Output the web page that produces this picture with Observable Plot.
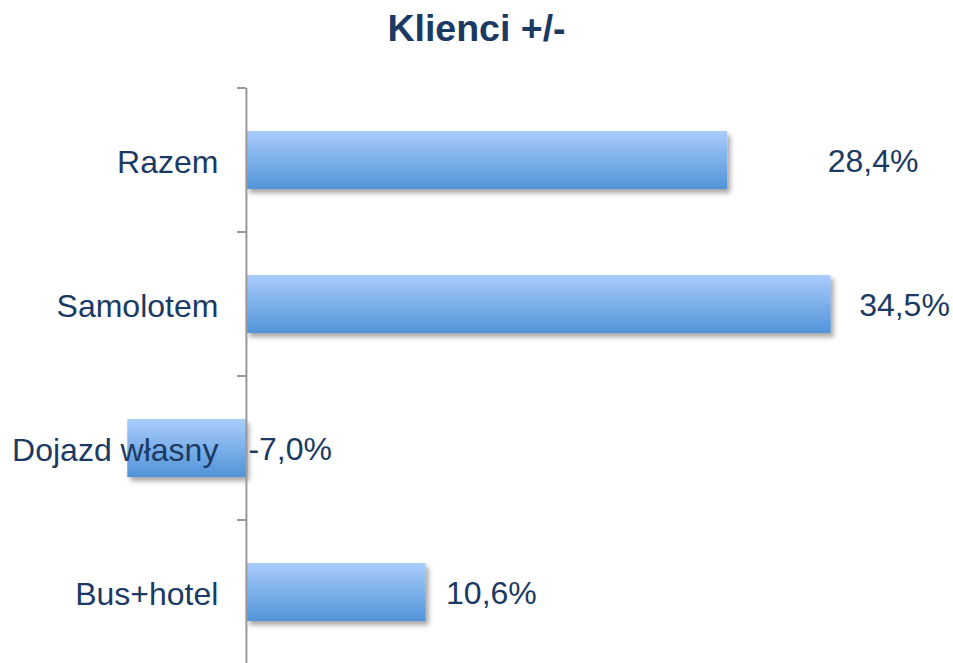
<!DOCTYPE html>
<html>
<head>
<meta charset="utf-8">
<script src="https://cdn.jsdelivr.net/npm/d3@7"></script>
<script src="https://cdn.jsdelivr.net/npm/@observablehq/plot@0.6"></script>
<style>
  html, body { margin: 0; padding: 0; background: #fff; overflow: hidden; }
  #title { height: 60px; width: 953px; text-align: center; font-family: "Liberation Sans", Arial, sans-serif;
           font-weight: bold; font-size: 37.5px; color: #1b3a63; line-height: 57px; }
  #chart svg { display: block; overflow: visible; }
</style>
</head>
<body>
<div id="title">Klienci +/-</div>
<div id="chart"></div>
<script>
const categories = ["Razem", "Samolotem", "Dojazd własny", "Bus+hotel"];
const values = [28.4, 34.5, -7.0, 10.6];
const labels = ["28,4%", "34,5%", "-7,0%", "10,6%"];

const data = categories.map((c, i) => ({category: c, value: values[i], label: labels[i]}));
const textColor = "#1b3a63";
const font = "Liberation Sans, Arial, sans-serif";
// label offsets (styling) per category
const labelDx = {"Razem": 100, "Samolotem": 28, "Dojazd własny": 2, "Bus+hotel": 20};

const chart = Plot.plot({
  width: 953,
  height: 604,
  marginTop: 28,
  marginBottom: 0,
  marginLeft: 0,
  marginRight: 0,
  style: {fontFamily: font, overflow: "visible"},
  x: {domain: [-14.51, 41.72], axis: null},
  y: {domain: categories, axis: null, paddingInner: 0.6, paddingOuter: 0.3},
  marks: [
    Plot.barX(data, {x1: 0, x2: "value", y: "category", fill: "url(#barGrad)", className: "bars"}),
    Plot.ruleX([0], {stroke: "#9a9a9a", strokeWidth: 2}),
    Plot.text(data, {x: 0, y: "category", text: "category", textAnchor: "end", dx: -28, dy: 2, fontSize: 32, fill: textColor}),
    ...categories.map(c => Plot.text(data.filter(d => d.category === c), {
      x: d => Math.max(0, d.value), y: "category", text: "label", textAnchor: "start",
      dx: labelDx[c], dy: 1, fontSize: 32, fill: textColor
    }))
  ]
});

// defs: gradient and shadow
const svg = d3.select(chart);
const defs = svg.insert("defs", ":first-child");
const g = defs.append("linearGradient").attr("id", "barGrad").attr("x1", 0).attr("y1", 0).attr("x2", 0).attr("y2", 1);
g.append("stop").attr("offset", "0%").attr("stop-color", "#aacdfc");
g.append("stop").attr("offset", "100%").attr("stop-color", "#5093d8");
const f = defs.append("filter").attr("id", "barShadow").attr("x", "-10%").attr("y", "-20%").attr("width", "130%").attr("height", "150%");
f.append("feDropShadow").attr("dx", 3).attr("dy", 4).attr("stdDeviation", 2.5).attr("flood-color", "#000").attr("flood-opacity", 0.35);
svg.selectAll("g.bars rect, .bars rect").attr("filter", "url(#barShadow)");

// tick marks at band boundaries
const y = chart.scale("y");
const x = chart.scale("x");
const x0 = x.apply(0);
const step = y.step;
const start = y.apply(categories[0]) - (step - y.bandwidth) / 2;
const bounds = d3.range(categories.length + 1).map(i => start + i * step);
svg.append("g").selectAll("line").data(bounds).join("line")
  .attr("x1", x0 - 9).attr("x2", x0).attr("y1", d => d).attr("y2", d => d)
  .attr("stroke", "#9a9a9a").attr("stroke-width", 2);

document.getElementById("chart").append(chart);
</script>
</body>
</html>
